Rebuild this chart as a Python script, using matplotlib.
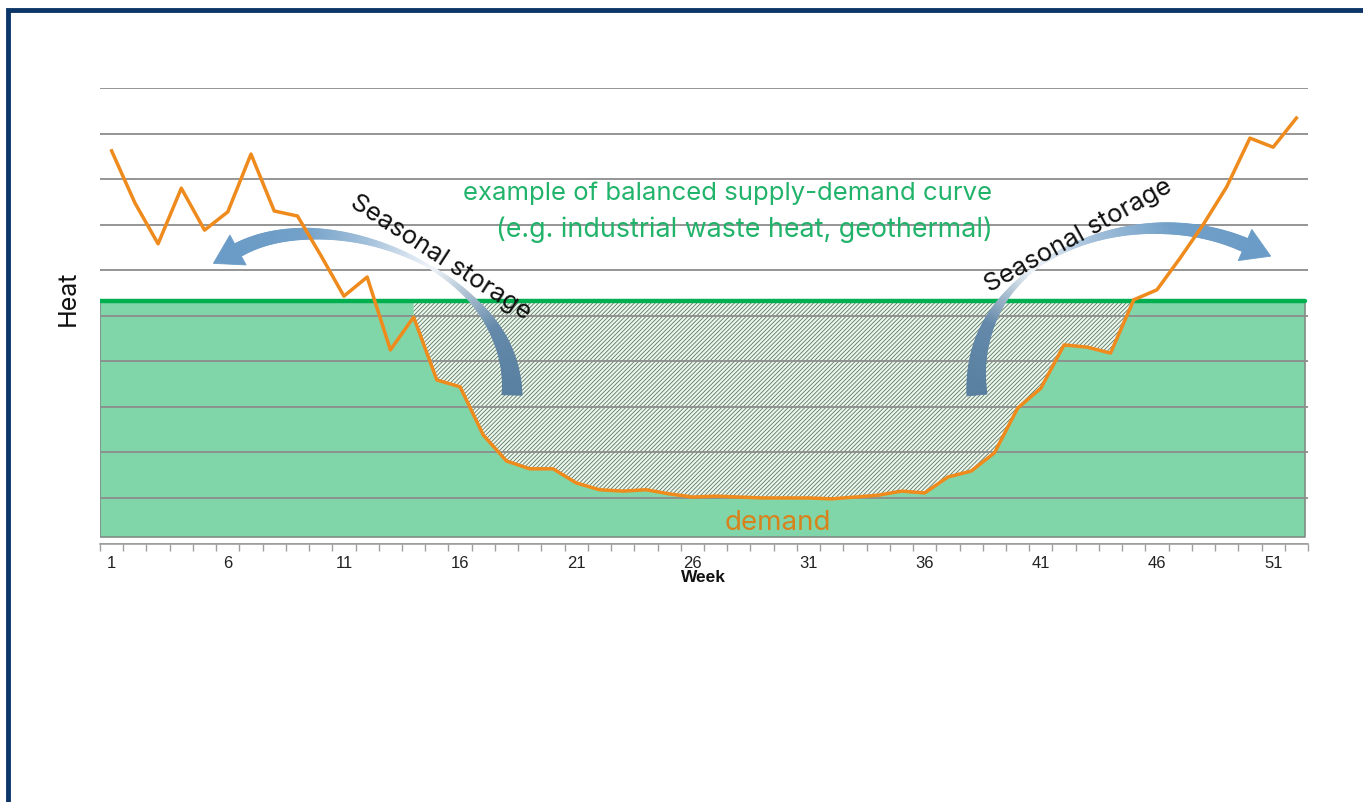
import numpy as np
import matplotlib.pyplot as plt
import matplotlib.colors as mcolors
from matplotlib.patches import Polygon, Rectangle
from matplotlib.collections import PolyCollection
from matplotlib.transforms import Affine2D

# weekly heat demand (arbitrary units)
weeks = list(range(1, 53))
demand = [8.62, 7.48, 6.58, 7.80, 6.88, 7.28, 8.55, 7.30, 7.19, 6.33,
          5.43, 5.85, 4.25, 4.97, 3.59, 3.44, 2.38, 1.81, 1.64, 1.64,
          1.33, 1.18, 1.15, 1.18, 1.09, 1.02, 1.04, 1.02, 1.00, 1.00,
          1.00, 0.98, 1.02, 1.06, 1.15, 1.11, 1.46, 1.59, 1.99, 2.97,
          3.41, 4.36, 4.31, 4.18, 5.35, 5.57, 6.27, 7.01, 7.83, 8.90,
          8.70, 9.34]
supply_level = 5.32
supply_floor = 0.14
storage_weeks = (14, 45)
tick_weeks = [1, 6, 11, 16, 21, 26, 31, 36, 41, 46, 51]

W, H = 1363, 802
fig = plt.figure(figsize=(W / 100, H / 100), dpi=100)
ax = fig.add_axes([100 / W, (H - 543.5) / H, 1208 / W, 455.5 / H])
# pixel coordinates (origin top-left) for the hand-drawn arrows and labels
px = Affine2D().scale(1 / 100, -1 / 100).translate(0, H / 100) + fig.dpi_scale_trans

# supply block
ax.fill_between([0.5, 52.37], supply_floor, supply_level, facecolor='#80d6a8',
                edgecolor='#7f8c85', linewidth=1.2, zorder=1)

# stored surplus (hatched)
w = np.array(weeks)
d = np.array(demand)
m = (w >= storage_weeks[0]) & (w <= storage_weeks[1])
plt.rcParams['hatch.linewidth'] = 0.6
ax.fill_between(w[m], d[m], supply_level, facecolor='#eef7ee', edgecolor='#5a7863',
                hatch='////////', linewidth=0, zorder=1.2)

ax.plot([0.5, 52.37], [supply_level, supply_level], color='#00b050', lw=3.2,
        solid_capstyle='round', zorder=3)
ax.plot(weeks, demand, color='#ef8a1d', lw=2.5, zorder=5)

ax.set_xlim(0.5, 52.5)
ax.set_ylim(0, 10)
ax.set_yticks(range(0, 11))
ax.tick_params(axis='y', length=0, labelleft=False)
ax.set_axisbelow('line')
ax.yaxis.grid(True, color='#8c8c8c', lw=1.3)
ax.set_xticks(tick_weeks)
ax.set_xticklabels([str(t) for t in tick_weeks], fontsize=12, color='#222222',
                   family='Liberation Sans')
ax.set_xticks(np.arange(0.5, 53, 1), minor=True)
ax.tick_params(axis='x', which='major', length=0, pad=9)
ax.tick_params(axis='x', which='minor', length=5, color='#a0a0a0', width=1)
for s in ['top', 'right', 'left']:
    ax.spines[s].set_visible(False)
ax.spines['bottom'].set_color('#a0a0a0')
ax.spines['bottom'].set_linewidth(1.2)


def bezier(ctrl, t):
    p0, p1, p2, p3 = [np.array(c, dtype=float) for c in ctrl]
    a, b = (1 - t)[:, None], t[:, None]
    pts = a**3 * p0 + 3 * a**2 * b * p1 + 3 * a * b**2 * p2 + b**3 * p3
    der = -3 * a**2 * p0 + (3 * a**2 - 6 * a * b) * p1 + (6 * a * b - 3 * b**2) * p2 + 3 * b**2 * p3
    return pts, der


def storage_arrow(ctrl, w_t, w_v, c_t, c_v, head_len, head_w, head_color):
    t = np.linspace(0, 1, 300)
    pts, der = bezier(ctrl, t)
    der = der / np.linalg.norm(der, axis=1)[:, None]
    nrm = np.column_stack([-der[:, 1], der[:, 0]])
    wid = np.interp(t, w_t, w_v)
    left = pts + nrm * wid[:, None] / 2
    right = pts - nrm * wid[:, None] / 2
    quads = [[left[i], left[i + 1], right[i + 1], right[i]] for i in range(len(t) - 1)]
    rgb = np.array([mcolors.to_rgb(c) for c in c_v])
    tm = (t[:-1] + t[1:]) / 2
    cols = np.column_stack([np.interp(tm, c_t, rgb[:, k]) for k in range(3)])
    pc = PolyCollection(quads, facecolors=cols, edgecolors=cols, linewidths=0.6,
                        transform=px, zorder=4, clip_on=False)
    ax.add_collection(pc, autolim=False)
    base = pts[-1]
    tip = base + der[-1] * head_len
    tri = [base + nrm[-1] * head_w / 2, tip, base - nrm[-1] * head_w / 2]
    ax.add_patch(Polygon(tri, closed=True, facecolor=head_color, edgecolor=head_color,
                         lw=0.6, transform=px, zorder=4, clip_on=False))


storage_arrow([(512, 395), (515, 270), (330, 200), (238, 250)],
              [0, 0.15, 0.3, 0.45, 0.6, 0.78, 1], [20, 14, 6, 2.5, 6, 11, 14],
              [0, 0.2, 0.44, 0.62, 0.8, 1],
              ['#587fa0', '#6489aa', '#f2f6fa', '#a4c1db', '#71a0c8', '#6b9cc7'],
              28, 34, '#6b9cc7')
storage_arrow([(977, 395), (965, 260), (1130, 195), (1245, 245)],
              [0, 0.15, 0.3, 0.42, 0.58, 0.78, 1], [20, 14, 6, 2.5, 6, 11, 14],
              [0, 0.2, 0.4, 0.58, 0.8, 1],
              ['#587fa0', '#6489aa', '#f2f6fa', '#a4c1db', '#71a0c8', '#6b9cc7'],
              28, 34, '#6b9cc7')

txt = dict(family=['Inter', 'DejaVu Sans'], transform=px, zorder=6, ha='center', va='center')
ax.text(440, 258, 'Seasonal storage', rotation=-33, fontsize=18.5, color='#111111',
        rotation_mode='anchor', **txt)
ax.text(1078, 236, 'Seasonal storage', rotation=29, fontsize=18.5, color='#111111',
        rotation_mode='anchor', **txt)
ax.text(728, 193, 'example of balanced supply-demand curve', fontsize=18.5,
        color='#22b36b', **txt)
ax.text(744, 230, '(e.g. industrial waste heat, geothermal)', fontsize=19.3,
        color='#22b36b', **txt)
ax.text(778, 523, 'demand', fontsize=20, color='#d9821c', **txt)
ax.text(703, 577, 'Week', fontsize=12.5, fontweight='bold', color='#111111',
        family='Liberation Sans', transform=px, ha='center', va='center')
ax.text(68, 298, 'Heat', fontsize=18, rotation=90, color='#111111',
        family=['Inter', 'DejaVu Sans'], transform=px, ha='center', va='center')

# frame round the slide
fig.patches.append(Rectangle((8 / W, -0.1), 1.2, (H - 10) / H + 0.1, transform=fig.transFigure,
                             fill=False, edgecolor='#0c3568', lw=3.5))

fig.savefig('out.png', dpi=100)
